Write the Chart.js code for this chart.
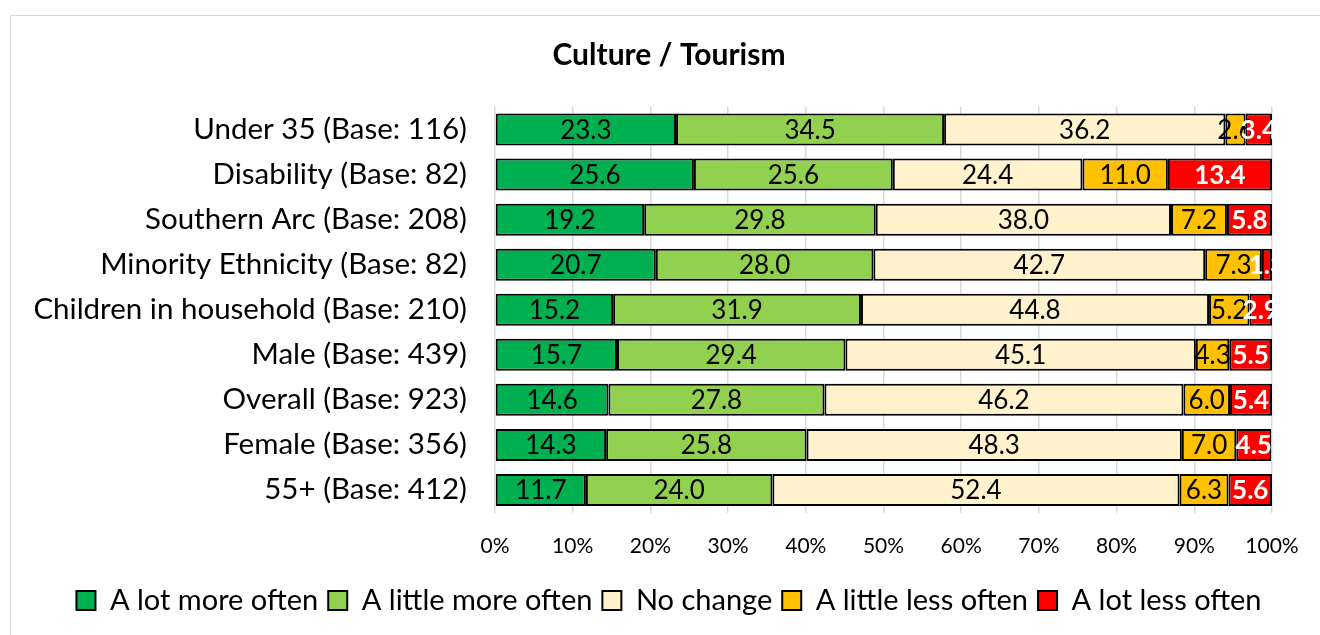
<!DOCTYPE html>
<html>
<head>
<meta charset="utf-8">
<script src="https://cdn.jsdelivr.net/npm/chart.js@4.4.1/dist/chart.umd.min.js"></script>
<style>
html,body{margin:0;padding:0;background:#fff;overflow:hidden;}
#wrap{position:relative;width:1320px;height:635px;}
#frame{position:absolute;left:10px;top:15px;width:1400px;height:700px;border:1.5px solid #d9d9d9;pointer-events:none;}
canvas{position:absolute;left:0;top:0;}
</style>
</head>
<body>
<div id="wrap">
<canvas id="c" width="1320" height="635"></canvas>
<div id="frame"></div>
</div>
<script>
const categories = [
  "Under 35 (Base: 116)",
  "Disability (Base: 82)",
  "Southern Arc (Base: 208)",
  "Minority Ethnicity (Base: 82)",
  "Children in household (Base: 210)",
  "Male (Base: 439)",
  "Overall (Base: 923)",
  "Female (Base: 356)",
  "55+ (Base: 412)"
];
const seriesNames = ["A lot more often", "A little more often", "No change", "A little less often", "A lot less often"];
const aLotMore    = [23.3, 25.6, 19.2, 20.7, 15.2, 15.7, 14.6, 14.3, 11.7];
const aLittleMore = [34.5, 25.6, 29.8, 28.0, 31.9, 29.4, 27.8, 25.8, 24.0];
const noChange    = [36.2, 24.4, 38.0, 42.7, 44.8, 45.1, 46.2, 48.3, 52.4];
const aLittleLess = [2.6, 11.0, 7.2, 7.3, 5.2, 4.3, 6.0, 7.0, 6.3];
const aLotLess    = [3.4, 13.4, 5.8, 1.3, 2.9, 5.5, 5.4, 4.5, 5.6];
const xTicks = [0,10,20,30,40,50,60,70,80,90,100];

const colors = ["#00B050", "#92D050", "#FFF2CC", "#FFC000", "#FF0000"];
const labelColors = ["#000", "#000", "#000", "#000", "#fff"];
const labelBold = [false, false, false, false, true];
const FONT = "Lato, 'Open Sans', sans-serif";

const seriesData = [aLotMore, aLittleMore, noChange, aLittleLess, aLotLess];

const dataLabelPlugin = {
  id: 'dataLabels',
  afterDatasetsDraw(chart) {
    const ctx = chart.ctx;
    chart.data.datasets.forEach((ds, di) => {
      const meta = chart.getDatasetMeta(di);
      meta.data.forEach((bar, i) => {
        const v = ds.data[i];
        const cx = (bar.x + bar.base) / 2;
        ctx.save();
        ctx.font = (labelBold[di] ? 'bold ' : '') + '26px ' + FONT;
        ctx.fillStyle = labelColors[di];
        ctx.textAlign = 'center';
        ctx.textBaseline = 'middle';
        ctx.fillText(v.toFixed(1), cx, bar.y + 1);
        ctx.restore();
      });
    });
  }
};

new Chart(document.getElementById('c'), {
  type: 'bar',
  data: {
    labels: categories,
    datasets: seriesData.map((d, k) => ({
      label: seriesNames[k],
      data: d,
      backgroundColor: colors[k],
      borderColor: '#000',
      borderWidth: 2,
      borderSkipped: false,
      barPercentage: 0.71,
      categoryPercentage: 1.0
    }))
  },
  options: {
    indexAxis: 'y',
    responsive: false,
    animation: false,
    layout: { padding: { left: 18, right: 0, top: 0, bottom: 10 } },
    scales: {
      x: {
        stacked: true,
        min: 0, max: 100,
        afterBuildTicks(s) { s.ticks = xTicks.map(v => ({ value: v })); },
        afterFit(s) { s.height = 63.5; },
        ticks: { callback: v => v + '%', color: '#000', font: { size: 21, family: FONT }, padding: 21, maxRotation: 0 },
        grid: { color: '#d9d9d9', lineWidth: 1.5, drawTicks: false },
        border: { display: false }
      },
      y: {
        stacked: true,
        afterFit(s) { s.width = 477; },
        ticks: { color: '#000', font: { size: 29.5, family: FONT }, padding: 28 },
        grid: { display: false, drawTicks: false },
        border: { display: false }
      },
      ySpacer: {
        type: 'category',
        position: 'right',
        afterFit(s) { s.width = 48; },
        ticks: { display: false },
        grid: { display: false, drawTicks: false },
        border: { display: false }
      }
    },
    plugins: {
      title: {
        display: true,
        text: 'Culture / Tourism',
        color: '#000',
        font: { size: 30, weight: 'bold', family: FONT },
        padding: { top: 37, bottom: 34 }
      },
      legend: {
        position: 'bottom',
        labels: {
          color: '#000',
          font: { size: 29, family: FONT },
          boxWidth: 19, boxHeight: 19,
          padding: 10
        }
      },
      tooltip: { enabled: false }
    }
  },
  plugins: [dataLabelPlugin]
});
</script>
</body>
</html>
